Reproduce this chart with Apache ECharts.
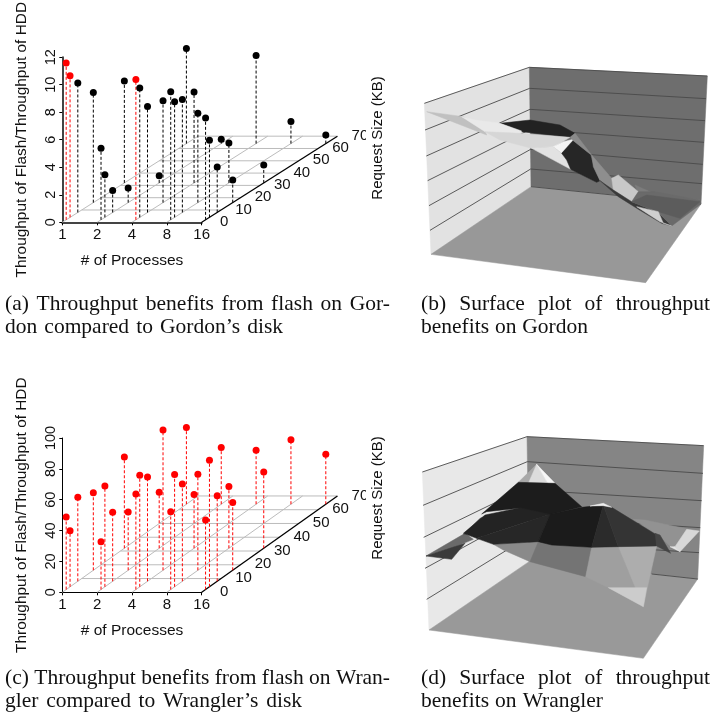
<!DOCTYPE html>
<html><head><meta charset="utf-8">
<style>html,body{margin:0;padding:0;background:#fff}#c{width:725px;height:716px}</style>
<script src="https://cdn.jsdelivr.net/npm/echarts@6/dist/echarts.min.js"></script>
</head><body><div id="c"></div>
<script>
const procLabels = ['1','2','4','8','16'];
const requestSizes = [2,4,8,16,32,64];
const depthTicks = [0,10,20,30,40,50,60,70];
// values: one row per process count, one column per request size
const gordonValues = [
 [11.4,10.3,9.4,8.0,7.4,6.9],
 [5.2,3.1,1.6,1.06,0.53,0.31],
 [10.2,9.4,7.7,7.4,6.6,6.4],
 [9.3,8.4,8.2,6.5,2.9,1.6],
 [7.4,5.6,3.3,1.64,1.3,0.63]
];
const gordonRedPoints = [[0,0],[0,1],[2,0]];
const wranglerValues = [
 [47,36.4,54.4,50.3,59.2,49.7],
 [31,65.3,44.7,37.8,36.3,36.7],
 [61.9,72.3,67.6,90.9,34.8,35],
 [50.5,72.7,63,62.2,40,41.7],
 [45,82,55.5,44,49.5,32.4]
];
// surface panels: read in a 930x720 picture space for each panel
const wallsB = [
 ['#e2e2e2',[[58,160],[373,52],[378,410],[78,613]]],
 ['#6e6e6e',[[373,52],[907,78],[888,462],[378,410]]],
 ['#989898',[[378,410],[888,462],[722,698],[78,613]]]
];
const wallLinesB = [
 [[58,160],[373,52]],[[373,52],[907,78]],
 [[374,115],[60,240]],[[375,178],[64,318]],[[376,238],[68,392]],[[377,298],[72,467]],[[377,357],[75,541]],
 [[374,115],[903,146]],[[375,178],[900,212]],[[376,238],[897,277]],[[377,298],[893,343]],[[377,357],[891,401]],
 [[378,410],[888,462]]
];
const facetsB = [
 ['#7c7c7c',[[690,405],[745,430],[885,450],[700,430]]],
 ['#c0c0c0',[[65,185],[175,200],[235,232],[245,255]]],
 ['#222222',[[285,220],[375,210],[465,225],[510,250],[495,262],[350,245]]],
 ['#e9e9e9',[[170,200],[210,210],[285,220],[350,243],[345,250],[240,245]]],
 ['#d6d6d6',[[240,245],[345,250],[495,262],[445,292],[380,295],[285,270]]],
 ['#f4f4f4',[[505,268],[470,310],[445,290],[475,275]]],
 ['#e2e2e2',[[380,295],[445,290],[470,310],[490,328],[497,358]]],
 ['#262626',[[505,272],[555,312],[565,345],[585,392],[575,397],[497,358],[485,330],[470,310]]],
 ['#8a8a8a',[[495,262],[510,250],[560,315],[555,312],[505,272]]],
 ['#8e8e8e',[[560,315],[620,385],[625,420],[585,392],[565,350]]],
 ['#c8c8c8',[[620,385],[640,375],[700,425],[680,455],[625,420]]],
 ['#3a3a3a',[[585,392],[625,420],[680,455],[760,488],[800,528],[770,520],[700,478],[640,440]]],
 ['#6a6a6a',[[700,425],[750,425],[885,450],[888,462],[800,528],[760,485],[680,455]]],
 ['#5c5c5c',[[680,455],[725,435],[885,455],[825,505],[760,485]]],
 ['#cfcfcf',[[695,470],[760,485],[775,520],[800,528],[765,515]]]
];
const wallsD = [
 ['#e8e8e8',[[52,156],[366,50],[372,425],[72,630]]],
 ['#858585',[[366,50],[896,77],[878,477],[372,425]]],
 ['#999999',[[372,425],[878,477],[715,715],[72,630]]]
];
const wallLinesD = [
 [[52,156],[366,50]],[[366,50],[896,77]],
 [[367,125],[54,256]],[[369,200],[56,352]],[[370,275],[60,445]],[[371,350],[65,538]],
 [[367,125],[894,160]],[[369,210],[890,242]],[[370,290],[886,323]],[[371,365],[882,398]],[[740,462],[878,477]]
];
const facetsD = [
 ['#929292',[[685,298],[720,300],[850,328],[812,380],[795,378],[760,345]]],
 ['#d8d8d8',[[845,328],[883,333],[825,395],[810,380]]],
 ['#e4e4e4',[[795,380],[810,380],[825,395]]],
 ['#6a6a6a',[[63,408],[180,340],[205,358],[140,385]]],
 ['#3a3a3a',[[63,408],[180,370],[140,418]]],
 ['#555555',[[190,330],[225,295],[250,285],[175,345]]],
 ['#8a8a8a',[[265,373],[400,365],[375,425],[295,390]]],
 ['#747474',[[400,365],[440,375],[560,382],[542,470],[375,425]]],
 ['#9f9f9f',[[560,382],[640,380],[715,560],[610,503],[542,470]]],
 ['#adadad',[[640,380],[755,378],[727,503],[715,560]]],
 ['#cccccc',[[610,503],[725,503],[715,560]]],
 ['#a8a8a8',[[395,133],[370,190],[340,187]]],
 ['#dcdcdc',[[395,133],[430,193],[370,190]]],
 ['#f6f6f6',[[395,133],[450,190],[430,193]]],
 ['#1c1c1c',[[340,187],[450,190],[530,260],[430,285],[340,265],[245,275],[230,282]]],
 ['#232323',[[175,340],[240,285],[345,263],[435,283],[215,355]]],
 ['#272727',[[215,355],[435,283],[400,365],[265,373]]],
 ['#1b1b1b',[[400,365],[435,283],[530,262],[595,255],[560,382],[440,375]]],
 ['#2b2b2b',[[595,255],[640,380],[560,382]]],
 ['#343434',[[595,255],[620,262],[755,345],[755,378],[640,380]]],
 ['#eeeeee',[[555,258],[595,250],[620,262],[595,257]]],
 ['#444444',[[750,340],[765,345],[797,400],[755,378]]]
];
// captions: [words, left, right, centre y]
const captionLines = [
 ['(a) Throughput benefits from flash on Gor-',5,390,304],
 ['don compared to Gordon\u2019s disk',5,283,327],
 ['(b) Surface plot of throughput',421,710,304],
 ['benefits on Gordon',421,588,327],
 ['(c) Throughput benefits from flash on Wran-',5,390,678],
 ['gler compared to Wrangler\u2019s disk',5,302,701],
 ['(d) Surface plot of throughput',421,710,678],
 ['benefits on Wrangler',421,603,701]
];

const SANS = '"Liberation Sans", Arial, sans-serif';
const SERIF = '"Liberation Serif", "Times New Roman", serif';
const CAP_FONT = '21.5px ' + SERIF;

const chart = echarts.init(document.getElementById('c'), null, {renderer:'canvas'});

function scatterPanel(idx, cfg){
  const proj = (p,s,v)=>[p + s*cfg.dx, v + s*cfg.dy];
  const floor = [];
  depthTicks.slice(1).forEach(s=>{ floor.push([...proj(0,s,0),...proj(4,s,0),0]); });
  [0,1,2,3,4].forEach(p=>{ floor.push([...proj(p,0,0),...proj(p,70,0),p===4?1:0]); });
  const stems=[], pts=[];
  cfg.values.forEach((row,p)=>row.forEach((v,i)=>{
    const s=requestSizes[i];
    const red = cfg.allRed || gordonRedPoints.some(r=>r[0]===p&&r[1]===i);
    const color = red?'#ff0000':'#000';
    stems.push([...proj(p,s,0),...proj(p,s,v),red?1:0]);
    pts.push({value:proj(p,s,v),itemStyle:{color,opacity:1}});
  }));
  const common = {type:'custom',coordinateSystem:'cartesian2d',xAxisIndex:idx,yAxisIndex:idx,silent:true,clip:false};
  const lineItem = styleFn => (params,api)=>{
    const a=api.coord([api.value(0),api.value(1)]), b=api.coord([api.value(2),api.value(3)]);
    return {type:'line',shape:{x1:a[0],y1:a[1],x2:b[0],y2:b[1]},style:styleFn(api.value(4))};
  };
  return [
    {...common,z:1,encode:{x:0,y:1},data:floor,
      renderItem:lineItem(k=>k?{stroke:'#000',lineWidth:1.3,fill:null}:{stroke:'#bcbcbc',lineWidth:1,fill:null})},
    {...common,z:2,encode:{x:0,y:1},data:stems,
      renderItem:lineItem(k=>({stroke:k?'#ff0000':'#000',lineWidth:1,lineDash:[3,2],fill:null}))},
    {...common,z:3,encode:{x:0,y:1},
      data:depthTicks.map(s=>[...proj(4,s,0),s]),
      renderItem:(params,api)=>{
        const a=api.coord([api.value(0),api.value(1)]);
        return {type:'text',x:a[0]+22.5,y:a[1]-0.5,
          style:{text:String(api.value(2)),font:'15px '+SANS,fill:'#111',align:'center',verticalAlign:'middle'}};
      }},
    {type:'scatter',xAxisIndex:idx,yAxisIndex:idx,z:4,symbolSize:7,silent:true,clip:false,data:pts}
  ];
}
function surfacePanel(idx, walls, lines, facets){
  const poly = list => ({
    type:'custom',coordinateSystem:'cartesian2d',xAxisIndex:idx,yAxisIndex:idx,silent:true,clip:false,
    encode:{x:0,y:1},data:list.map(f=>f[1][0]),
    renderItem:(params,api)=>{
      const f=list[params.dataIndex];
      return {type:'polygon',shape:{points:f[1].map(p=>api.coord(p))},
        style:{fill:f[0],stroke:f[0],lineWidth:0.5}};
    }});
  return [
    {...poly(walls),z:1},
    {type:'custom',coordinateSystem:'cartesian2d',xAxisIndex:idx,yAxisIndex:idx,silent:true,clip:false,z:2,
      encode:{x:0,y:1},data:lines.map(l=>l[0]),
      renderItem:(params,api)=>{
        const l=lines[params.dataIndex],a=api.coord(l[0]),b=api.coord(l[1]);
        return {type:'line',shape:{x1:a[0],y1:a[1],x2:b[0],y2:b[1]},style:{stroke:'#4a4a4a',lineWidth:0.9,fill:null}};
      }},
    {...poly(facets),z:3}
  ];
}
function captionGraphics(){
  const ctx=document.createElement('canvas').getContext('2d'); ctx.font=CAP_FONT;
  const out=[];
  captionLines.forEach(([text,l,r,y])=>{
    const words=text.split(' ');
    const w=words.map(t=>ctx.measureText(t).width);
    const total=w.reduce((a,b)=>a+b,0);
    const gap=(r-l-total)/(words.length-1);
    let x=l;
    words.forEach((t,i)=>{
      out.push({type:'text',x,y,style:{text:t,font:CAP_FONT,fill:'#111',textAlign:'left',textVerticalAlign:'middle'},silent:true});
      x+=w[i]+gap;
    });
  });
  return out;
}
const sideLabel=(y)=>({type:'text',x:378,y,rotation:Math.PI/2,
  style:{text:'Request Size (KB)',font:'15px '+SANS,fill:'#111',textAlign:'center',textVerticalAlign:'middle'},silent:true});
const clip=(y)=>({type:'rect',x:366,y:y,z:50,shape:{x:0,y:0,width:5,height:24},style:{fill:'#fff'},silent:true});

const grids=[
 {left:62.3,top:56.7,width:139.4,height:165.6},
 {left:405,top:50,width:310,height:240},
 {left:62.3,top:438,width:139.4,height:154.3},
 {left:405,top:420,width:310,height:240}
];
const visX=(idx,w)=>({gridIndex:idx,type:'value',min:0,max:4,interval:1,
  axisLine:{show:true,lineStyle:{color:w>1?'#444':'#000',width:w}},
  axisTick:{show:true,length:3,lineStyle:{color:'#000'}},splitLine:{show:false},
  axisLabel:{formatter:v=>procLabels[v],fontFamily:SANS,fontSize:15,color:'#111',margin:5,hideOverlap:false,showMinLabel:true,showMaxLabel:true},
  name:'# of Processes',nameLocation:'middle',nameGap:30,nameTextStyle:{fontFamily:SANS,fontSize:15.5,color:'#111'}});
const visY=(idx,max,interval,w)=>({gridIndex:idx,type:'value',min:0,max,interval,
  axisLine:{show:true,lineStyle:{color:w>1?'#444':'#000',width:w}},
  axisTick:{show:true,length:3,lineStyle:{color:'#000'}},splitLine:{show:false},
  axisLabel:{rotate:90,fontFamily:SANS,fontSize:14.5,color:'#111',margin:4,showMinLabel:true,showMaxLabel:true},
  name:'Throughput of Flash/Throughput of HDD',nameLocation:'middle',nameGap:33,nameRotate:90,
  nameTextStyle:{fontFamily:SANS,fontSize:15.4,color:'#111'}});
const hidX=idx=>({gridIndex:idx,type:'value',min:0,max:930,show:false});
const hidY=idx=>({gridIndex:idx,type:'value',min:0,max:720,inverse:true,show:false});

chart.setOption({
  animation:false,backgroundColor:'#fff',tooltip:{show:false},
  grid:grids,
  xAxis:[visX(0,2),hidX(1),visX(2,1),hidX(3)],
  yAxis:[visY(0,12,2,2),hidY(1),visY(2,100,20,1),hidY(3)],
  series:[
    ...scatterPanel(0,{values:gordonValues,dx:0.05564,dy:0.0894,allRed:false}),
    ...surfacePanel(1,wallsB,wallLinesB,facetsB),
    ...scatterPanel(2,{values:wranglerValues,dx:0.05564,dy:0.892,allRed:true}),
    ...surfacePanel(3,wallsD,wallLinesD,facetsD)
  ],
  graphic:{elements:[...captionGraphics(),sideLabel(138),sideLabel(498),clip(125),clip(484)]}
});
</script></body></html>
